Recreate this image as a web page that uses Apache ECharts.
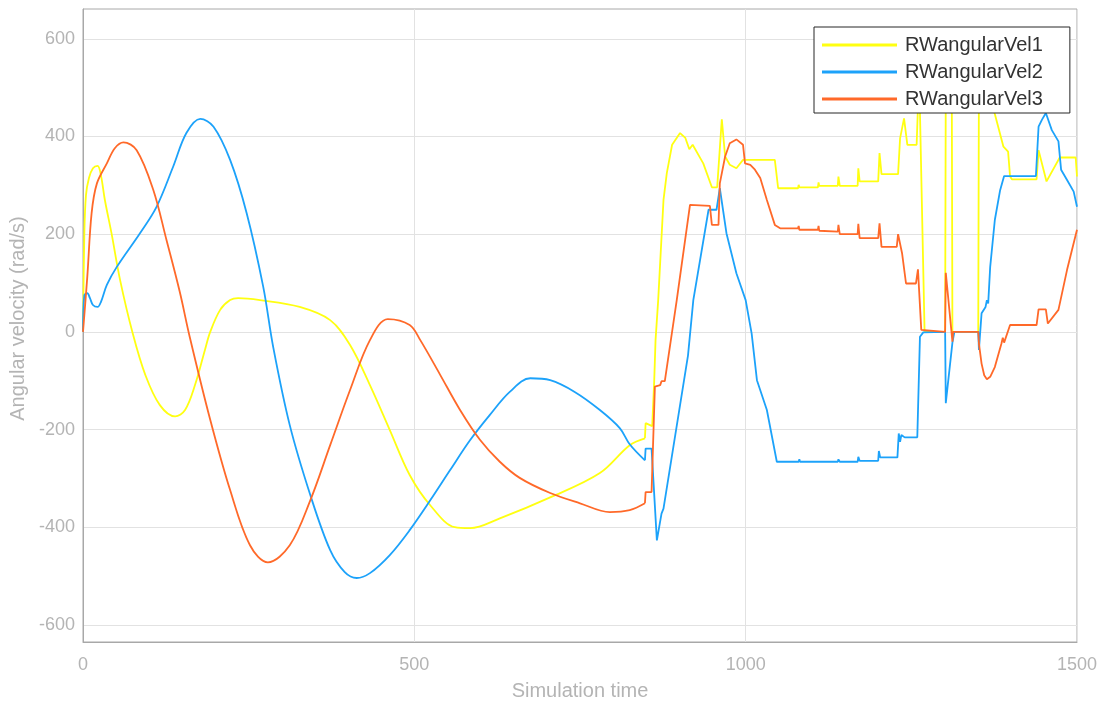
<!DOCTYPE html>
<html>
<head>
<meta charset="utf-8">
<script src="https://cdn.jsdelivr.net/npm/echarts@6/dist/echarts.min.js"></script>
<style>
  html, body { margin: 0; padding: 0; background: #fff; }
  #chart { width: 1110px; height: 707px; }
</style>
</head>
<body>
<div id="chart"></div>
<script>
// Reaction wheel angular velocities, [time, rad/s]
const seriesNames = ['RWangularVel1', 'RWangularVel2', 'RWangularVel3'];
const xTicks = [0, 500, 1000, 1500];
const yTicks = [-600, -400, -200, 0, 200, 400, 600];

const vel1 = [
  [0,0],[2,200],[4.5,280],[9,315],[15,335],[22,340],[27,321],[33,270],[43,202],[56,106],[75,-3],
  [94,-88],[116,-150],[139,-173],[154,-160],[169,-109],[184,-37],[192,0],[207,45],[222,65],[234,69],
  [267,65],[327,51],[373,24],[403,-27],[433,-109],[463,-201],[493,-293],[524,-355],[561,-400],[584,-402],
  [629,-382],[705,-339],[780,-289],[825,-232],[848,-218],[849,-187],[859,-193],[862,-100],[864,-17],
  [868,65],[876,270],[881,325],[889,383],[901,407],[909,397],[915,374],[920,383],[936,345],[949,296],
  [957,296],[964,435],[969,359],[976,342],[986,335],[996,352],[1022,352],[1044,352],[1049,294],
  [1079,294],[1080,301],[1081,296],[1109,296],[1110,306],[1111,299],[1139,299],[1140,318],[1142,299],
  [1169,299],[1170,335],[1172,308],[1200,308],[1202,366],[1205,323],[1230,323],[1233,396],[1239,437],
  [1244,383],[1258,383],[1261,500],[1263,450],[1270,0],[1301,0],[1302,520],[1311,520],[1312,0],
  [1351,0],[1352,520],[1365,520],[1376,446],[1389,379],[1396,369],[1399,318],[1402,312],[1439,312],
  [1442,372],[1454,308],[1474,357],[1498,357],[1500,318]
];

const vel2 = [
  [0,0],[2,75],[6.5,79],[10.5,69],[15,55],[22,51],[27,61],[36,96],[51,133],[86,202],[111,256],[136,338],
  [156,407],[177,436],[197,420],[222,352],[247,243],[272,92],[287,-31],[312,-191],[343,-334],[373,-447],
  [395,-492],[413,-504],[433,-494],[463,-457],[493,-406],[524,-345],[554,-283],[584,-222],[614,-170],
  [644,-123],[675,-95],[705,-99],[742,-123],[780,-160],[810,-197],[825,-230],[848,-263],[849,-239],
  [858,-239],[866,-427],[873,-372],[876,-362],[878,-365],[913,-48],[921,65],[944,250],[956,250],
  [961,294],[971,202],[986,120],[1000,65],[1009,-3],[1017,-99],[1032,-160],[1047,-266],[1080,-266],
  [1081,-261],[1082,-266],[1109,-266],[1110,-262],[1111,-266],[1139,-266],[1140,-261],[1142,-266],
  [1169,-266],[1170,-256],[1172,-264],[1200,-264],[1201,-244],[1203,-257],[1229,-257],[1231,-208],
  [1233,-225],[1235,-211],[1240,-216],[1259,-216],[1263,-10],[1268,-1],[1301,0],[1302,-146],[1312,-22],
  [1315,0],[1351,0],[1352,-37],[1356,38],[1362,51],[1364,65],[1366,58],[1369,133],[1376,229],[1384,290],
  [1390,319],[1438,319],[1442,420],[1447,434],[1453,448],[1462,413],[1472,390],[1476,332],[1485,311],
  [1495,287],[1500,256]
];

const vel3 = [
  [0,0],[6.5,113],[13,243],[21,304],[36,345],[48,376],[61,388],[81,372],[106,291],[126,188],[146,82],
  [161,-10],[192,-180],[222,-324],[252,-437],[279,-472],[312,-437],[343,-345],[373,-232],[403,-119],
  [433,-17],[460,26],[493,14],[509,-17],[539,-88],[569,-160],[599,-221],[629,-266],[659,-299],[705,-330],
  [750,-351],[795,-369],[825,-365],[848,-351],[849,-328],[858,-328],[863,-112],[871,-109],[873,-101],
  [878,-101],[896,65],[916,260],[946,258],[949,219],[959,219],[961,304],[969,359],[976,386],[986,394],
  [996,383],[999,345],[1007,342],[1014,332],[1022,315],[1032,270],[1044,219],[1052,212],[1079,212],
  [1080,217],[1081,209],[1109,209],[1110,217],[1111,207],[1139,205],[1140,219],[1142,200],[1169,200],
  [1170,221],[1172,192],[1200,192],[1202,222],[1205,174],[1228,174],[1230,200],[1236,161],[1242,99],
  [1257,99],[1260,128],[1265,4],[1267,0],[1301,0],[1302,121],[1312,-20],[1313,0],[1351,0],[1352,-24],
  [1356,-65],[1360,-89],[1364,-97],[1369,-92],[1376,-72],[1386,-24],[1388,-12],[1390,-22],[1399,14],
  [1439,14],[1442,46],[1453,46],[1456,17],[1472,45],[1485,127],[1500,209]
];

// The wheels coast smoothly until the controller switches on; after that the traces are stepped.
const controlStart = 848;

const lineColors = ['#FFFF11', '#1CA2FA', '#FF6929'];
const axisGray = '#b4b4b4';
const frameGray = '#a8a8a8';
const gridGray = '#e2e2e2';
const fontFamily = '"Liberation Sans", Arial, Helvetica, sans-serif';

const chart = echarts.init(document.getElementById('chart'), null, { renderer: 'canvas' });

const lineSeries = (name, data, color, smooth) => ({
  name, type: 'line', data, showSymbol: false, symbol: 'none', smooth,
  lineStyle: { color, width: 1.8 }, itemStyle: { color },
  animation: false, clip: true
});

// each trace: a smoothed coasting part and a straight-segment controlled part, sharing one legend entry
const traceSeries = (name, data, color) => [
  lineSeries(name, data.filter(p => p[0] <= controlStart), color, 0.35),
  lineSeries(name, data.filter(p => p[0] >= controlStart), color, false)
];

chart.setOption({
  backgroundColor: '#fff',
  animation: false,
  grid: {
    left: 83, right: 33, top: 9, bottom: 65,
    show: true, borderColor: frameGray, borderWidth: 1, backgroundColor: '#fff'
  },
  legend: {
    orient: 'vertical',
    left: 814, top: 27,
    padding: [8, 27, 4, 8],
    itemGap: 7,
    itemWidth: 75, itemHeight: 3,
    icon: 'rect',
    backgroundColor: '#fff',
    borderColor: '#262626', borderWidth: 1, borderRadius: 0,
    textStyle: { fontFamily, fontSize: 20, color: '#333', lineHeight: 20, padding: [0, 0, 0, 3] },
    data: seriesNames
  },
  xAxis: {
    type: 'value', min: 0, max: 1500, interval: 500,
    name: 'Simulation time', nameLocation: 'middle', nameGap: 39,
    nameTextStyle: { fontFamily, fontSize: 20, color: axisGray },
    axisLine: { show: true, onZero: false, lineStyle: { color: frameGray } },
    axisTick: { show: false },
    axisLabel: { fontFamily, fontSize: 18, color: axisGray, margin: 14,
      formatter: (v) => String(v) },
    splitLine: { show: true, lineStyle: { color: gridGray, width: 1 } }
  },
  yAxis: {
    type: 'value', min: -635, max: 661,
    name: 'Angular velocity (rad/s)', nameLocation: 'middle', nameGap: 52, nameRotate: 90,
    nameTextStyle: { fontFamily, fontSize: 20, color: axisGray, padding: [0, 0, 0, 14] },
    axisLine: { show: true, onZero: false, lineStyle: { color: frameGray } },
    axisTick: { show: false, customValues: yTicks },
    axisLabel: { fontFamily, fontSize: 18, color: axisGray, margin: 8, customValues: yTicks,
      formatter: (v) => String(v) },
    splitLine: { show: true, lineStyle: { color: gridGray, width: 1 } }
  },
  series: [
    ...traceSeries(seriesNames[0], vel1, lineColors[0]),
    ...traceSeries(seriesNames[1], vel2, lineColors[1]),
    ...traceSeries(seriesNames[2], vel3, lineColors[2])
  ]
});
</script>
</body>
</html>
